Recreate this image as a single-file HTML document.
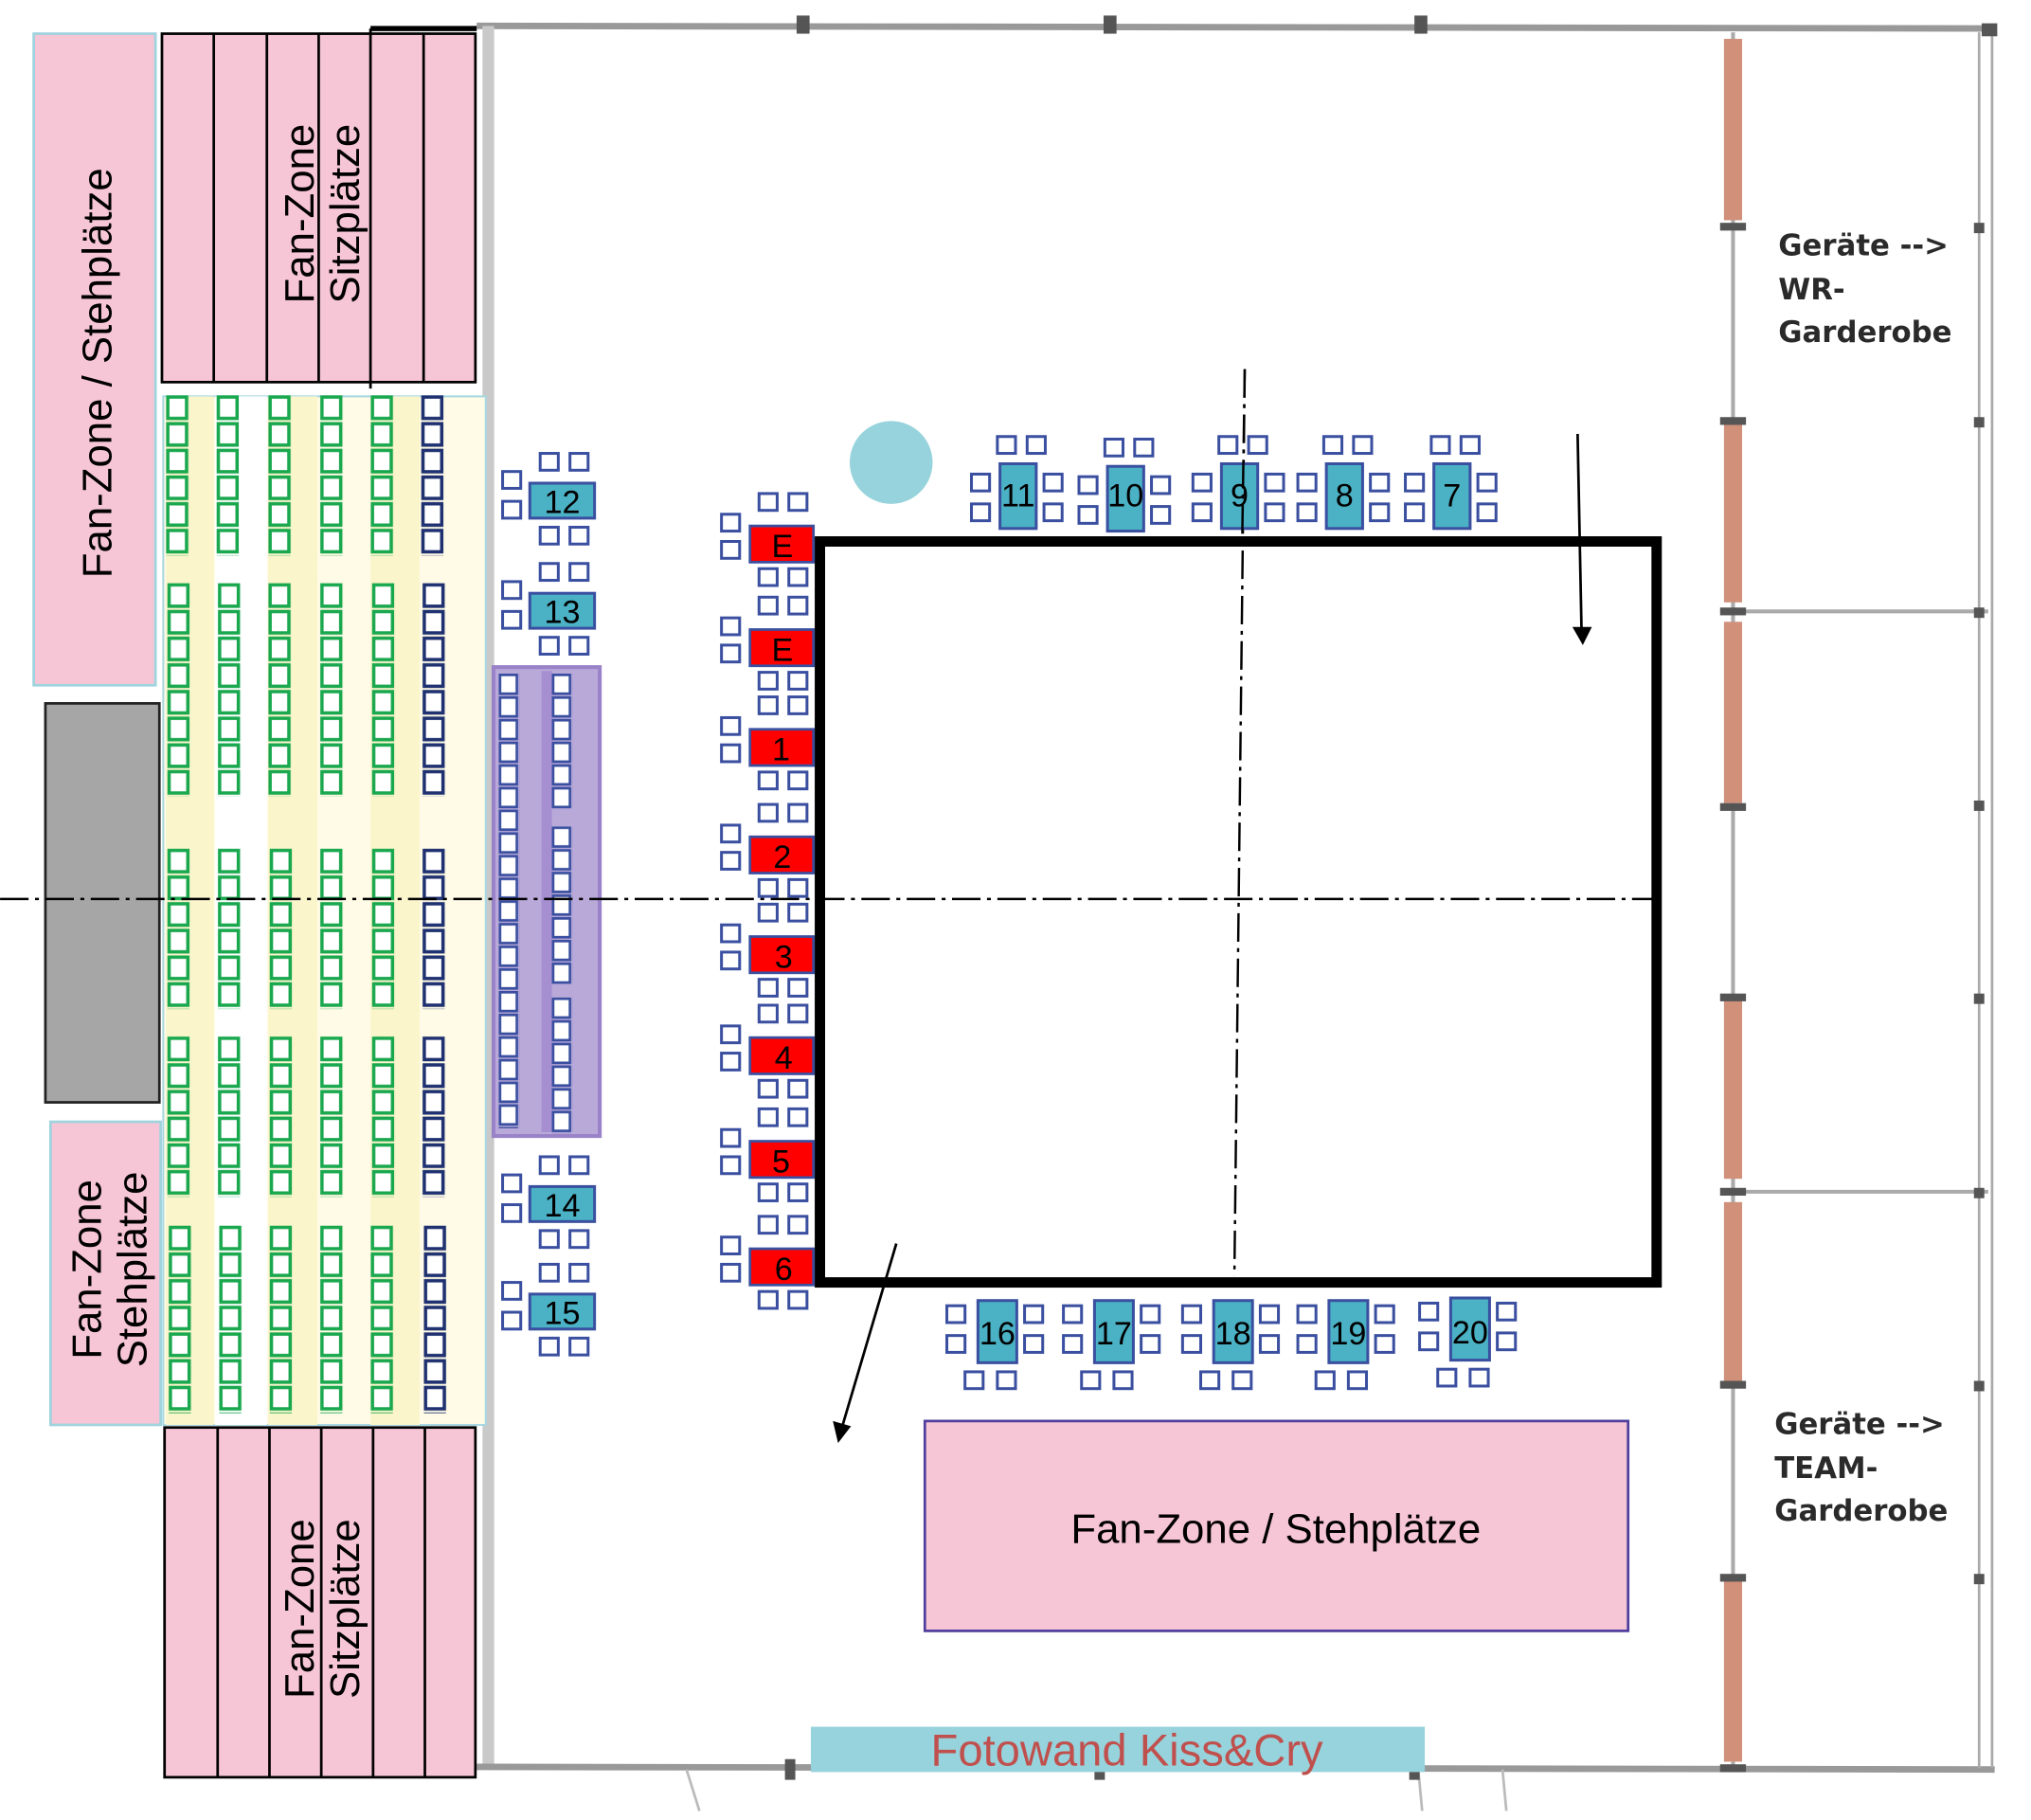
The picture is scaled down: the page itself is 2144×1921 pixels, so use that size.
<!DOCTYPE html>
<html><head><meta charset="utf-8"><style>html,body{margin:0;padding:0;background:#fff}svg{display:block}</style></head>
<body>
<svg width="2144" height="1921" viewBox="0 0 1568 1405" xmlns="http://www.w3.org/2000/svg" font-family="Liberation Sans, sans-serif">
<defs>
<pattern id="pg" width="18" height="20.6" patternUnits="userSpaceOnUse"><rect x="1.5" y="1.5" width="14.5" height="16.5" fill="#fff" stroke="#1aa84f" stroke-width="2.6"/></pattern>
<pattern id="pn" width="18" height="20.6" patternUnits="userSpaceOnUse"><rect x="1.5" y="1.5" width="14.5" height="16.5" fill="#fff" stroke="#1f3170" stroke-width="2.6"/></pattern>
<pattern id="pp" width="16" height="17.5" patternUnits="userSpaceOnUse"><rect x="1" y="1" width="13" height="14.5" fill="#fff" stroke="#3a4fa0" stroke-width="2"/></pattern>
<rect id="c" width="14" height="13" fill="#fff" stroke="#3a4fa0" stroke-width="2.2"/>
<g id="rt"><use href="#c" x="-22" y="-9"/><use href="#c" x="-22" y="12"/><use href="#c" x="7" y="-25"/><use href="#c" x="30" y="-25"/><use href="#c" x="7" y="33"/><use href="#c" x="30" y="33"/><rect x="0" y="0" width="49" height="28" fill="#f00" stroke="#3a4fa0" stroke-width="2"/></g>
<g id="lt"><use href="#c" x="-21" y="-9"/><use href="#c" x="-21" y="14"/><use href="#c" x="8" y="-23"/><use href="#c" x="31" y="-23"/><use href="#c" x="8" y="34"/><use href="#c" x="31" y="34"/><rect x="0" y="0" width="50" height="27" fill="#4bb1c4" stroke="#3a4fa0" stroke-width="2.2"/></g>
<g id="tt"><use href="#c" x="-2" y="-21"/><use href="#c" x="21" y="-21"/><use href="#c" x="-22" y="8"/><use href="#c" x="-22" y="31"/><use href="#c" x="34" y="8"/><use href="#c" x="34" y="31"/><rect x="0" y="0" width="28" height="50" fill="#4bb1c4" stroke="#3a4fa0" stroke-width="2.2"/></g>
<g id="bt"><use href="#c" x="-24" y="4"/><use href="#c" x="-24" y="27"/><use href="#c" x="36" y="4"/><use href="#c" x="36" y="27"/><use href="#c" x="-10" y="55"/><use href="#c" x="15" y="55"/><rect x="0" y="0" width="30" height="48" fill="#4bb1c4" stroke="#3a4fa0" stroke-width="2.2"/></g>
</defs>

<!-- building walls -->
<g fill="none">
<line x1="368" y1="20" x2="1540" y2="22" stroke="#999" stroke-width="5"/>
<line x1="377" y1="20" x2="377" y2="1365" stroke="#c9c9c9" stroke-width="9"/>
<line x1="368" y1="1364" x2="1540" y2="1366" stroke="#999" stroke-width="5"/>
<line x1="1528" y1="25" x2="1528" y2="1365" stroke="#aaa" stroke-width="2"/>
<line x1="1538" y1="25" x2="1538" y2="1365" stroke="#aaa" stroke-width="2"/>
<line x1="1338" y1="25" x2="1338" y2="1365" stroke="#aaa" stroke-width="3"/>
<line x1="1338" y1="472" x2="1535" y2="472" stroke="#aaa" stroke-width="3"/>
<line x1="1338" y1="920" x2="1535" y2="920" stroke="#aaa" stroke-width="3"/>
<line x1="530" y1="1366" x2="540" y2="1398" stroke="#bbb" stroke-width="2"/>
<line x1="1095" y1="1366" x2="1098" y2="1398" stroke="#bbb" stroke-width="2"/>
<line x1="1160" y1="1366" x2="1163" y2="1398" stroke="#bbb" stroke-width="2"/>
</g>
<g fill="#d0907a">
<rect x="1331" y="30" width="14" height="140"/><rect x="1331" y="325" width="14" height="140"/><rect x="1331" y="480" width="14" height="140"/>
<rect x="1331" y="770" width="14" height="140"/><rect x="1331" y="928" width="14" height="140"/><rect x="1331" y="1220" width="14" height="140"/>
</g>
<g fill="#555">
<rect x="615" y="12" width="10" height="14"/><rect x="852" y="12" width="10" height="14"/><rect x="1092" y="12" width="10" height="14"/><rect x="1530" y="18" width="12" height="10"/>
<rect x="1328" y="172" width="20" height="6"/><rect x="1328" y="322" width="20" height="6"/><rect x="1328" y="469" width="20" height="6"/><rect x="1328" y="620" width="20" height="6"/><rect x="1328" y="767" width="20" height="6"/><rect x="1328" y="917" width="20" height="6"/><rect x="1328" y="1066" width="20" height="6"/><rect x="1328" y="1215" width="20" height="6"/><rect x="1328" y="1362" width="20" height="6"/>
<rect x="1524" y="172" width="8" height="8"/><rect x="1524" y="322" width="8" height="8"/><rect x="1524" y="469" width="8" height="8"/><rect x="1524" y="618" width="8" height="8"/><rect x="1524" y="767" width="8" height="8"/><rect x="1524" y="917" width="8" height="8"/><rect x="1524" y="1066" width="8" height="8"/><rect x="1524" y="1215" width="8" height="8"/>
<rect x="606" y="1358" width="8" height="16"/><rect x="845" y="1358" width="8" height="16"/><rect x="1088" y="1358" width="8" height="16"/>
</g>

<!-- left pink zones -->
<rect x="26" y="26" width="94" height="503" fill="#f7c6d6" stroke="#9fd3de" stroke-width="2"/>
<text transform="translate(86,288) rotate(-90)" font-size="32" text-anchor="middle">Fan-Zone / Stehplätze</text>
<rect x="35" y="543" width="88" height="308" fill="#a6a6a6" stroke="#222" stroke-width="2"/>
<rect x="39" y="866" width="85" height="234" fill="#f7c6d6" stroke="#9fd3de" stroke-width="2"/>
<text transform="translate(78,980) rotate(-90)" font-size="32" text-anchor="middle">Fan-Zone</text>
<text transform="translate(113,980) rotate(-90)" font-size="32" text-anchor="middle">Stehplätze</text>

<!-- top sitz -->
<rect x="125" y="26" width="242" height="269" fill="#f7c6d6" stroke="#000" stroke-width="2"/>
<g stroke="#000" stroke-width="2"><line x1="165" y1="26" x2="165" y2="295"/><line x1="206" y1="26" x2="206" y2="295"/><line x1="246" y1="26" x2="246" y2="295"/><line x1="286" y1="22" x2="286" y2="300"/><line x1="327" y1="26" x2="327" y2="295"/></g>
<line x1="286" y1="22" x2="368" y2="22" stroke="#000" stroke-width="4"/>
<text transform="translate(242,165) rotate(-90)" font-size="32" text-anchor="middle">Fan-Zone</text>
<text transform="translate(277,165) rotate(-90)" font-size="32" text-anchor="middle">Sitzplätze</text>

<!-- bottom sitz -->
<rect x="127" y="1102" width="240" height="270" fill="#f7c6d6" stroke="#000" stroke-width="2"/>
<g stroke="#000" stroke-width="2"><line x1="168" y1="1102" x2="168" y2="1372"/><line x1="208" y1="1102" x2="208" y2="1372"/><line x1="248" y1="1102" x2="248" y2="1372"/><line x1="288" y1="1102" x2="288" y2="1372"/><line x1="328" y1="1102" x2="328" y2="1372"/></g>
<text transform="translate(242,1242) rotate(-90)" font-size="32" text-anchor="middle">Fan-Zone</text>
<text transform="translate(277,1242) rotate(-90)" font-size="32" text-anchor="middle">Sitzplätze</text>

<!-- seating area -->
<rect x="126" y="306" width="249" height="794" fill="#fffbe6" stroke="#a8d8e2" stroke-width="1.5"/>
<g fill="#fbf5cc"><rect x="128" y="306" width="37" height="794"/><rect x="207" y="306" width="38" height="794"/><rect x="286" y="306" width="38" height="794"/></g>
<g fill="#fff"><rect x="166" y="306" width="40" height="794"/></g>

<g transform="translate(128,305)"><rect width="18" height="124" fill="url(#pg)"/></g>
<g transform="translate(167,305)"><rect width="18" height="124" fill="url(#pg)"/></g>
<g transform="translate(207,305)"><rect width="18" height="124" fill="url(#pg)"/></g>
<g transform="translate(247,305)"><rect width="18" height="124" fill="url(#pg)"/></g>
<g transform="translate(286,305)"><rect width="18" height="124" fill="url(#pg)"/></g>
<g transform="translate(325,305)"><rect width="18" height="124" fill="url(#pn)"/></g>

<g transform="translate(129,450)"><rect width="18" height="165" fill="url(#pg)"/></g>
<g transform="translate(168,450)"><rect width="18" height="165" fill="url(#pg)"/></g>
<g transform="translate(207,450)"><rect width="18" height="165" fill="url(#pg)"/></g>
<g transform="translate(247,450)"><rect width="18" height="165" fill="url(#pg)"/></g>
<g transform="translate(287,450)"><rect width="18" height="165" fill="url(#pg)"/></g>
<g transform="translate(326,450)"><rect width="18" height="165" fill="url(#pn)"/></g>

<g transform="translate(129,655)"><rect width="18" height="124" fill="url(#pg)"/></g>
<g transform="translate(168,655)"><rect width="18" height="124" fill="url(#pg)"/></g>
<g transform="translate(208,655)"><rect width="18" height="124" fill="url(#pg)"/></g>
<g transform="translate(247,655)"><rect width="18" height="124" fill="url(#pg)"/></g>
<g transform="translate(287,655)"><rect width="18" height="124" fill="url(#pg)"/></g>
<g transform="translate(326,655)"><rect width="18" height="124" fill="url(#pn)"/></g>

<g transform="translate(129,800)"><rect width="18" height="124" fill="url(#pg)"/></g>
<g transform="translate(168,800)"><rect width="18" height="124" fill="url(#pg)"/></g>
<g transform="translate(208,800)"><rect width="18" height="124" fill="url(#pg)"/></g>
<g transform="translate(247,800)"><rect width="18" height="124" fill="url(#pg)"/></g>
<g transform="translate(287,800)"><rect width="18" height="124" fill="url(#pg)"/></g>
<g transform="translate(326,800)"><rect width="18" height="124" fill="url(#pn)"/></g>

<g transform="translate(130,946)"><rect width="18" height="145" fill="url(#pg)"/></g>
<g transform="translate(169,946)"><rect width="18" height="145" fill="url(#pg)"/></g>
<g transform="translate(208,946)"><rect width="18" height="145" fill="url(#pg)"/></g>
<g transform="translate(247,946)"><rect width="18" height="145" fill="url(#pg)"/></g>
<g transform="translate(286,946)"><rect width="18" height="145" fill="url(#pg)"/></g>
<g transform="translate(327,946)"><rect width="18" height="145" fill="url(#pn)"/></g>

<!-- purple bar -->
<rect x="381" y="515" width="82" height="362" fill="#b9a9d9" stroke="#9a82c8" stroke-width="3"/>
<rect x="418" y="518" width="8" height="356" fill="#a58fd0"/>
<g transform="translate(385,520)"><rect width="16" height="351" fill="url(#pp)"/></g>
<g transform="translate(426,520)"><rect width="16" height="105" fill="url(#pp)"/></g>
<g transform="translate(426,638)"><rect width="16" height="122" fill="url(#pp)"/></g>
<g transform="translate(426,770)"><rect width="16" height="105" fill="url(#pp)"/></g>

<!-- left tables 12-15 -->
<g font-size="25" text-anchor="middle">
<use href="#lt" x="409" y="373"/><text x="434" y="396">12</text>
<use href="#lt" x="409" y="458"/><text x="434" y="481">13</text>
<use href="#lt" x="409" y="916"/><text x="434" y="939">14</text>
<use href="#lt" x="409" y="999"/><text x="434" y="1022">15</text>
</g>

<!-- red tables -->
<g font-size="25" text-anchor="middle">
<use href="#rt" x="579" y="406"/><text x="604" y="430">E</text>
<use href="#rt" x="579" y="486"/><text x="604" y="510">E</text>
<use href="#rt" x="579" y="563"/><text x="603" y="587">1</text>
<use href="#rt" x="579" y="646"/><text x="604" y="670">2</text>
<use href="#rt" x="579" y="723"/><text x="605" y="747">3</text>
<use href="#rt" x="579" y="801"/><text x="605" y="825">4</text>
<use href="#rt" x="579" y="881"/><text x="603" y="905">5</text>
<use href="#rt" x="579" y="964"/><text x="605" y="988">6</text>
</g>

<!-- main field -->
<rect x="633" y="418" width="646" height="572" fill="#fff" stroke="#000" stroke-width="8"/>
<g stroke="#000" stroke-width="1.8" stroke-dasharray="22,5,3,5" fill="none">
<line x1="0" y1="694" x2="1280" y2="694"/>
<line x1="961" y1="285" x2="953" y2="985"/>
</g>

<!-- top tables -->
<g font-size="25" text-anchor="middle">
<use href="#tt" x="772" y="358"/><text x="786" y="391">11</text>
<use href="#tt" x="855" y="360"/><text x="869" y="391">10</text>
<use href="#tt" x="943" y="358"/><text x="957" y="391">9</text>
<use href="#tt" x="1024" y="358"/><text x="1038" y="391">8</text>
<use href="#tt" x="1107" y="358"/><text x="1121" y="391">7</text>
</g>
<line x1="961" y1="285" x2="959" y2="420" stroke="#000" stroke-width="1.8" stroke-dasharray="22,5,3,5"/>

<!-- bottom tables -->
<g font-size="25" text-anchor="middle">
<use href="#bt" x="755" y="1004"/><text x="770" y="1038">16</text>
<use href="#bt" x="845" y="1004"/><text x="860" y="1038">17</text>
<use href="#bt" x="937" y="1004"/><text x="952" y="1038">18</text>
<use href="#bt" x="1026" y="1004"/><text x="1041" y="1038">19</text>
<use href="#bt" x="1120" y="1002"/><text x="1135" y="1037">20</text>
</g>

<circle cx="688" cy="357" r="32" fill="#97d3dc"/>

<!-- arrows -->
<line x1="1218" y1="335" x2="1221" y2="486" stroke="#000" stroke-width="2"/>
<polygon points="1214,484 1229,484 1222,498" fill="#000"/>
<line x1="692" y1="960" x2="650" y2="1102" stroke="#000" stroke-width="2"/>
<polygon points="643,1097 657,1101 647,1114" fill="#000"/>

<!-- fan zone bottom -->
<rect x="714" y="1097" width="543" height="162" fill="#f7c6d6" stroke="#4f3e9e" stroke-width="2"/>
<text x="985" y="1191" font-size="32" text-anchor="middle">Fan-Zone / Stehplätze</text>

<rect x="626" y="1333" width="474" height="35" fill="#97d3dc"/>
<text x="870" y="1363" font-size="34.5" text-anchor="middle" fill="#c0504d">Fotowand Kiss&amp;Cry</text>

<g font-family="DejaVu Sans, sans-serif" font-weight="bold" font-size="22.5" fill="#2a2a2a">
<text x="1373" y="197">Geräte --&gt;</text><text x="1373" y="231">WR-</text><text x="1373" y="264">Garderobe</text>
<text x="1370" y="1107">Geräte --&gt;</text><text x="1370" y="1141">TEAM-</text><text x="1370" y="1174">Garderobe</text>
</g>
</svg>
</body></html>
